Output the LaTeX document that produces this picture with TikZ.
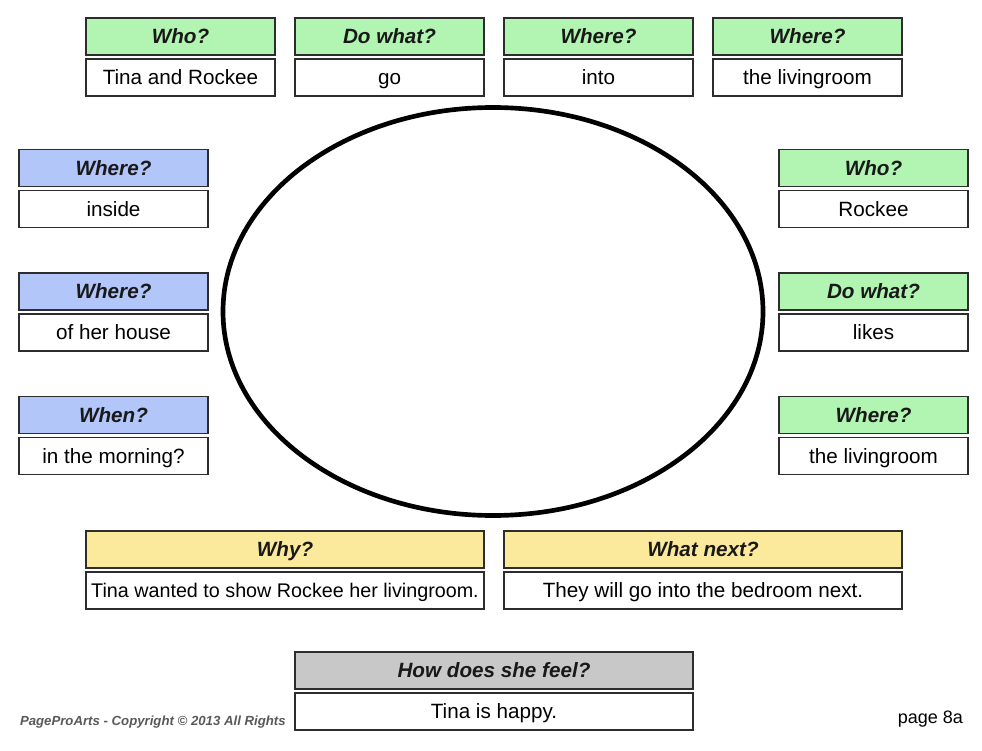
\documentclass[tikz,border=0pt]{standalone}
\usepackage{fontspec}
\setmainfont{Liberation Sans}
\usetikzlibrary{positioning}
\definecolor{hdgreen}{RGB}{178,245,178}
\definecolor{hdblue}{RGB}{178,198,250}
\definecolor{hdyellow}{RGB}{252,234,156}
\definecolor{hdgray}{RGB}{200,200,200}
\definecolor{boxline}{RGB}{45,45,45}

\begin{document}
\begin{tikzpicture}[
  x=0.75pt, y=-0.75pt,
  node distance=3pt,
  every node/.style={font=\fontsize{15.5}{18}\selectfont, inner sep=0pt, outer sep=0pt},
  head/.style={draw=boxline, line width=1pt, minimum width=141.75pt, minimum height=27.75pt,
    text height=14pt, text depth=3pt, font=\fontsize{15.5}{18}\selectfont\bfseries\itshape, text=black!90},
  ans/.style={draw=boxline, line width=1pt, fill=white, minimum width=141.75pt, minimum height=27.75pt,
    text height=14pt, text depth=3pt},
  wide/.style={minimum width=298.5pt}
]
\useasboundingbox (0,0) rectangle (982,750);

% Top row
\node[head, fill=hdgreen] (who1) at (180.5,36.5) {Who?};
\node[ans, below=of who1] (who1a) {Tina and Rockee};
\node[head, fill=hdgreen] (do1) at (389.5,36.5) {Do what?};
\node[ans, below=of do1] (do1a) {go};
\node[head, fill=hdgreen] (where1) at (598.5,36.5) {Where?};
\node[ans, below=of where1] (where1a) {into};
\node[head, fill=hdgreen] (where2) at (807.5,36.5) {Where?};
\node[ans, below=of where2] (where2a) {the livingroom};

% Left column
\node[head, fill=hdblue] (where3) at (113.5,168) {Where?};
\node[ans, below=of where3] (where3a) {inside};
\node[head, fill=hdblue] (where4) at (113.5,291.5) {Where?};
\node[ans, below=of where4] (where4a) {of her house};
\node[head, fill=hdblue] (when) at (113.5,415) {When?};
\node[ans, below=of when] (whena) {in the morning?};

% Right column
\node[head, fill=hdgreen] (who2) at (873.5,168) {Who?};
\node[ans, below=of who2] (who2a) {Rockee};
\node[head, fill=hdgreen] (do2) at (873.5,291.5) {Do what?};
\node[ans, below=of do2] (do2a) {likes};
\node[head, fill=hdgreen] (where5) at (873.5,415) {Where?};
\node[ans, below=of where5] (where5a) {the livingroom};

% Picture frame
\draw[line width=3.5pt] (493,311.5) ellipse [x radius=270, y radius=204];

% Bottom rows
\node[head, wide, fill=hdyellow] (why) at (285,549.5) {Why?};
\node[ans, wide, below=of why, font=\fontsize{14.8}{18}\selectfont] (whya) {Tina wanted to show Rockee her livingroom.};
\node[head, wide, fill=hdyellow] (next) at (703,549.5) {What next?};
\node[ans, wide, below=of next] (nexta) {They will go into the bedroom next.};
\node[head, wide, fill=hdgray] (feel) at (494,670.5) {How does she feel?};
\node[ans, wide, below=of feel] (feela) {Tina is happy.};

% Footer
\node[anchor=base west, font=\fontsize{9.9}{12}\selectfont\bfseries\itshape, text=black!65] (copy) at (20,725) {PageProArts - Copyright © 2013 All Rights};
\node[anchor=base east, font=\fontsize{13.5}{16}\selectfont] (page) at (963,723) {page 8a};
\end{tikzpicture}
\end{document}
